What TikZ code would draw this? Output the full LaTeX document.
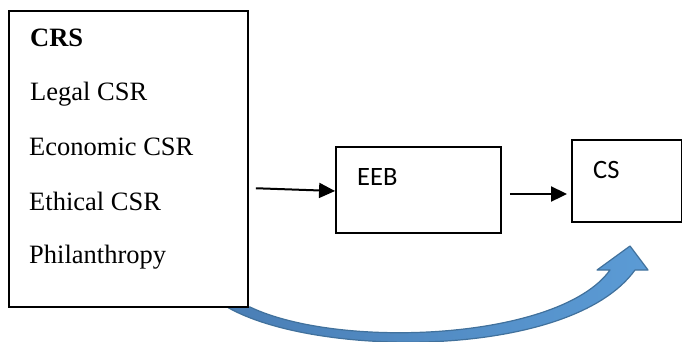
\documentclass[tikz,border=0pt]{standalone}
\usepackage{fontspec}
\setmainfont{Liberation Serif}
\newfontfamily\calib{Carlito}
\usetikzlibrary{arrows.meta}
\definecolor{arrowfill}{HTML}{5B9BD5}
\definecolor{arrowdark}{HTML}{4A7EB5}
\definecolor{arrowline}{HTML}{41719C}
\tikzset{
  frame/.style={draw=black, line width=1.9pt, fill=white, inner sep=0pt},
  item/.style={anchor=base west, inner sep=0pt, font=\fontsize{26.5}{30}\selectfont},
  label/.style={anchor=base west, inner sep=0pt, font=\calib\fontsize{26.5}{30}\selectfont},
  link/.style={line width=2pt, -{Triangle[length=16pt,width=15pt]}},
}
\begin{document}
\begin{tikzpicture}[x=1pt, y=-1pt]
\useasboundingbox (0,0) rectangle (682,341);
\clip (0,0) rectangle (682,341);

% curved block arrow from the CRS box round to CS
\draw[left color=arrowdark, right color=arrowfill, draw=arrowline, line width=1.2pt, line join=round]
  (227,307) .. controls (315,358) and (570,360) .. (635,270)
  -- (648,270) -- (630,246) -- (597,270) -- (610,270)
  .. controls (560,340) and (340,350) .. (250,307) -- cycle;

% boxes
\node[frame, minimum width=239pt, minimum height=296pt] (crs) at (128.5,159) {};
\node[frame, minimum width=165pt, minimum height=86pt] (eeb) at (418.5,189.7) {};
\node[frame, minimum width=110pt, minimum height=82pt] (cs) at (627,181) {};

% CRS box contents
\node[item, font=\bfseries\fontsize{26.5}{30}\selectfont] (t0) at (30,46) {CRS};
\node[item] (t1) at (30,100) {Legal CSR};
\node[item] (t2) at (29,155) {Economic CSR};
\node[item] (t3) at (29,210) {Ethical CSR};
\node[item] (t4) at (29,263) {Philanthropy};

% box labels
\node[label] (l1) at (357,185) {EEB};
\node[label] (l2) at (593,178) {CS};

% connectors
\draw[link, shorten <=7pt] ([yshift=-29pt]crs.east) -- ([yshift=-1.3pt]eeb.west);
\draw[link, shorten <=8pt, shorten >=4pt] ([yshift=-4.3pt]eeb.east) -- ([yshift=-13pt]cs.west);
\end{tikzpicture}
\end{document}
